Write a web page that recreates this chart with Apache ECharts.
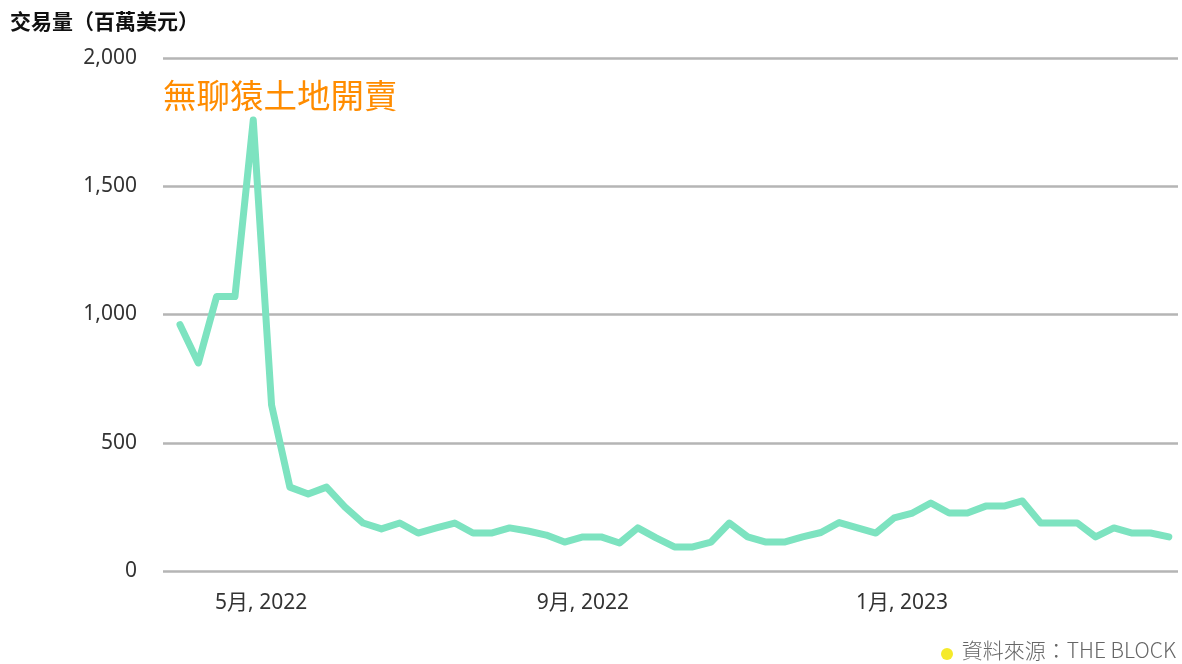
<!DOCTYPE html>
<html>
<head>
<meta charset="utf-8">
<script src="https://cdn.jsdelivr.net/npm/echarts@6/dist/echarts.min.js"></script>
<style>
  html, body { margin: 0; padding: 0; background: #fff; }
  #chart { width: 1182px; height: 664px; }
</style>
</head>
<body>
<div id="chart"></div>
<script>
// weekly volume, millions USD
var startDate = "2022-03-31";
var volume = [
  960, 811, 1070, 1070, 1758, 647, 327, 300, 327, 250,
  187, 164, 187, 148, 168, 187, 148, 148, 168, 156,
  140, 113, 133, 133, 109, 168, 129, 94, 94, 113,
  187, 133, 113, 113, 133, 150, 189, 168, 148, 207,
  226, 265, 226, 226, 253, 253, 273, 187, 187, 187,
  133, 168, 148, 148, 133
];
var labelDates = ["2022-05-01", "2022-09-01", "2023-01-01"];
var yTicks = [0, 500, 1000, 1500, 2000];

var DAY = 86400000;
var t0 = new Date(startDate + "T00:00:00Z").getTime();
var seriesData = volume.map(function (v, i) {
  return [t0 + i * 7 * DAY, v];
});
var tLast = seriesData[seriesData.length - 1][0];
var labelTimes = labelDates.map(function (d) {
  return new Date(d + "T00:00:00Z").getTime();
});

var chart = echarts.init(document.getElementById("chart"));
chart.setOption({
  animation: false,
  textStyle: { fontFamily: "'Noto Sans', 'Noto Sans CJK TC', sans-serif" },
  grid: { left: 163, right: 4, top: 58, bottom: 93 },
  xAxis: {
    type: "value",
    scale: true,
    min: t0 - 6.5 * DAY,
    max: tLast + 3.5 * DAY,
    axisLine: { show: false },
    axisTick: { show: false },
    splitLine: { show: false },
    axisLabel: {
      customValues: labelTimes,
      color: "#333",
      fontSize: 21,
      margin: 22,
      formatter: function (val) {
        var d = new Date(val);
        return (d.getUTCMonth() + 1) + "月, " + d.getUTCFullYear();
      }
    }
  },
  yAxis: {
    type: "value",
    min: 0,
    max: 2000,
    interval: 500,
    axisLine: { show: false },
    axisTick: { show: false },
    splitLine: { lineStyle: { color: "#b5b5b5", width: 2.5 } },
    axisLabel: {
      color: "#333",
      fontSize: 21,
      margin: 26,
      formatter: function (v) {
        return yTicks.indexOf(v) >= 0 ? v.toLocaleString("en-US") : "";
      }
    }
  },
  series: [
    {
      type: "line",
      data: seriesData,
      showSymbol: false,
      lineStyle: { color: "#7de3c0", width: 7, join: "round", cap: "round" },
      itemStyle: { color: "#7de3c0" }
    }
  ],
  graphic: [
    {
      type: "text",
      left: 10,
      top: 11,
      style: {
        text: "交易量（百萬美元）",
        font: "bold 21px 'Noto Sans CJK TC', sans-serif",
        fill: "#111"
      }
    },
    {
      type: "text",
      left: 163,
      top: 79,
      style: {
        text: "無聊猿土地開賣",
        font: "33.5px 'Noto Sans CJK TC', sans-serif",
        fill: "#ff8c00"
      }
    },
    {
      type: "circle",
      shape: { cx: 947, cy: 654, r: 6 },
      style: { fill: "#f5ea2a" }
    },
    {
      type: "text",
      right: 6,
      top: 640,
      style: {
        text: "資料來源：THE BLOCK",
        font: "300 21px 'Noto Sans CJK TC', sans-serif",
        fill: "#666"
      }
    }
  ]
});
</script>
</body>
</html>
